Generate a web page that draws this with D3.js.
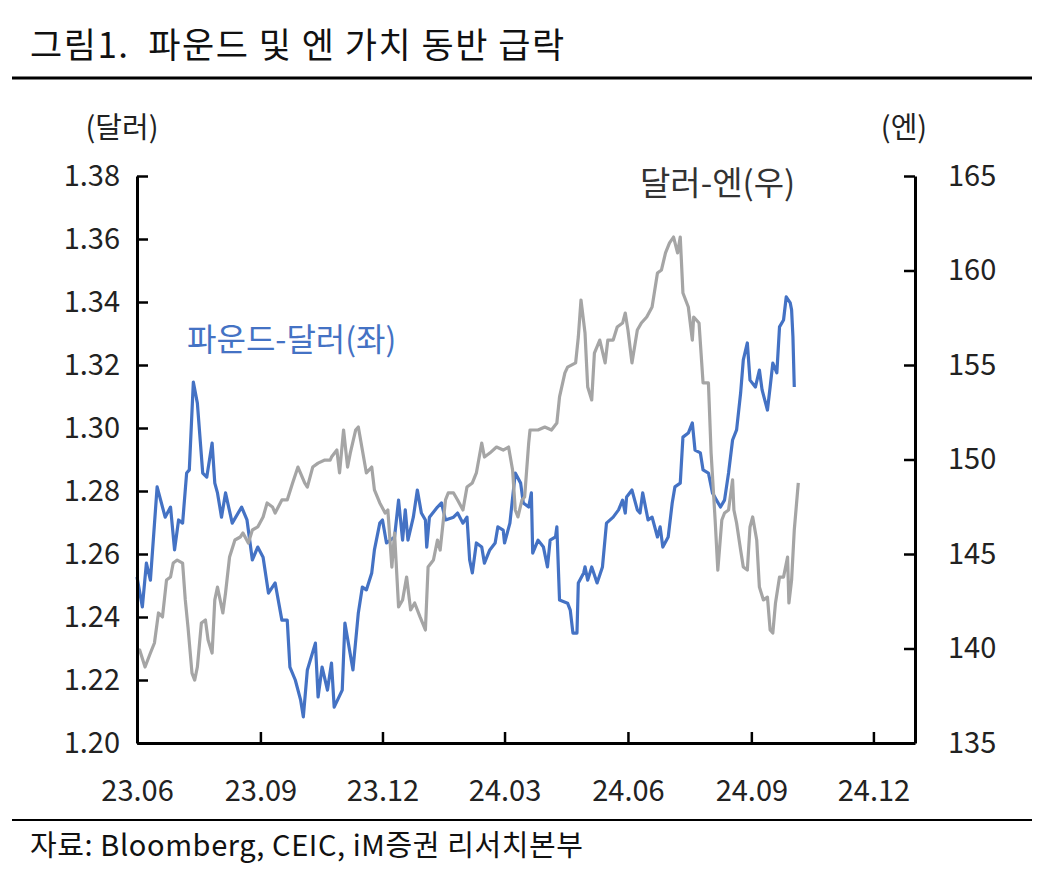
<!DOCTYPE html>
<html>
<head>
<meta charset="utf-8">
<script src="https://cdn.jsdelivr.net/npm/d3@7"></script>
<style>
  body { margin: 0; background: #fff; }
  text { font-family: "Noto Sans CJK KR", "Noto Sans", sans-serif; }
</style>
</head>
<body>
<script>
// chart text
var titleText = "그림1.  파운드 및 엔 가치 동반 급락";
var sourceText = "자료: Bloomberg, CEIC, iM증권 리서치본부";
var leftUnit = "(달러)", rightUnit = "(엔)";
var gbpLabel = "파운드-달러(좌)", jpyLabel = "달러-엔(우)";

// tick values
var leftTicks = [1.20, 1.22, 1.24, 1.26, 1.28, 1.30, 1.32, 1.34, 1.36, 1.38];
var rightTicks = [135, 140, 145, 150, 155, 160, 165];
var xTicks = ["2023-06-01", "2023-09-01", "2023-12-01", "2024-03-01", "2024-06-01", "2024-09-01", "2024-12-01"];

// 파운드-달러 (left axis)
var gbpDates = ["2023-06-01","2023-06-05","2023-06-08","2023-06-11","2023-06-16","2023-06-22","2023-06-26","2023-06-29",
  "2023-07-02","2023-07-05","2023-07-08","2023-07-10","2023-07-13","2023-07-16","2023-07-20","2023-07-23","2023-07-27",
  "2023-07-29","2023-07-31","2023-08-03","2023-08-06","2023-08-11","2023-08-18","2023-08-22","2023-08-26","2023-08-30",
  "2023-09-03","2023-09-07","2023-09-12","2023-09-17","2023-09-21","2023-09-23","2023-09-27","2023-10-01","2023-10-03",
  "2023-10-06","2023-10-12","2023-10-14","2023-10-17","2023-10-21","2023-10-24","2023-10-26","2023-11-01","2023-11-03",
  "2023-11-09","2023-11-13","2023-11-16","2023-11-19","2023-11-23","2023-11-25","2023-11-29","2023-12-01","2023-12-04",
  "2023-12-10","2023-12-13","2023-12-16","2023-12-18","2023-12-20","2023-12-24","2023-12-27","2023-12-30","2024-01-02",
  "2024-01-03","2024-01-05","2024-01-11","2024-01-14","2024-01-17","2024-01-23","2024-01-26","2024-01-30","2024-02-02",
  "2024-02-04","2024-02-06","2024-02-09","2024-02-13","2024-02-15","2024-02-19","2024-02-23","2024-02-25","2024-02-29",
  "2024-03-01","2024-03-05","2024-03-09","2024-03-13","2024-03-15","2024-03-19","2024-03-21","2024-03-22","2024-03-26",
  "2024-03-30","2024-04-02","2024-04-04","2024-04-08","2024-04-09","2024-04-11","2024-04-17","2024-04-19","2024-04-21",
  "2024-04-24","2024-04-25","2024-04-29","2024-04-30","2024-05-02","2024-05-05","2024-05-09","2024-05-13","2024-05-16",
  "2024-05-21","2024-05-25","2024-05-28","2024-05-30","2024-05-31","2024-06-04","2024-06-08","2024-06-10","2024-06-12",
  "2024-06-16","2024-06-19","2024-06-23","2024-06-25","2024-06-27","2024-07-01","2024-07-04","2024-07-06","2024-07-10",
  "2024-07-12","2024-07-16","2024-07-19","2024-07-21","2024-07-25","2024-07-27","2024-07-31","2024-08-03","2024-08-06",
  "2024-08-09","2024-08-12","2024-08-15","2024-08-18","2024-08-21","2024-08-24","2024-08-26","2024-08-29","2024-08-31",
  "2024-09-04","2024-09-07","2024-09-09","2024-09-13","2024-09-15","2024-09-17","2024-09-20","2024-09-22","2024-09-25",
  "2024-09-27","2024-09-30","2024-10-01","2024-10-02","2024-10-03"];
var gbpValues = [1.2527,1.2432,1.2571,1.2517,1.2813,1.2717,1.2749,1.2613,
  1.2708,1.2698,1.2857,1.2867,1.3146,1.3079,1.2857,1.2844,1.2952,
  1.2825,1.2794,1.2717,1.2794,1.2698,1.2749,1.2708,1.2581,1.2622,
  1.2590,1.2476,1.2508,1.2390,1.2390,1.2241,1.2200,1.2136,1.2083,
  1.2232,1.2317,1.2146,1.2241,1.2168,1.2254,1.2114,1.2168,1.2381,
  1.2232,1.2413,1.2495,1.2486,1.2540,1.2613,1.2698,1.2708,1.2635,
  1.2654,1.2771,1.2644,1.2740,1.2644,1.2717,1.2803,1.2730,1.2708,
  1.2622,1.2717,1.2749,1.2762,1.2708,1.2717,1.2730,1.2698,1.2717,
  1.2581,1.2540,1.2635,1.2622,1.2571,1.2613,1.2635,1.2686,1.2676,
  1.2635,1.2698,1.2857,1.2825,1.2762,1.2749,1.2794,1.2603,1.2644,
  1.2622,1.2559,1.2644,1.2654,1.2686,1.2454,1.2444,1.2422,1.2349,
  1.2349,1.2508,1.2540,1.2559,1.2517,1.2559,1.2508,1.2559,1.2698,
  1.2717,1.2740,1.2771,1.2730,1.2781,1.2803,1.2740,1.2730,1.2794,
  1.2708,1.2717,1.2654,1.2686,1.2622,1.2654,1.2762,1.2813,1.2825,
  1.2971,1.2984,1.3016,1.2930,1.2921,1.2867,1.2857,1.2794,1.2771,
  1.2749,1.2771,1.2857,1.2962,1.2994,1.3111,1.3216,1.3270,1.3152,
  1.3130,1.3184,1.3121,1.3057,1.3130,1.3206,1.3175,1.3321,1.3343,
  1.3416,1.3397,1.3375,1.3289,1.3130];

// 달러-엔 (right axis)
var jpyDates = ["2023-06-01","2023-06-03","2023-06-07","2023-06-11","2023-06-14","2023-06-17","2023-06-20","2023-06-23",
  "2023-06-26","2023-06-28","2023-07-01","2023-07-05","2023-07-07","2023-07-09","2023-07-12","2023-07-14","2023-07-16",
  "2023-07-19","2023-07-22","2023-07-24","2023-07-27","2023-07-29","2023-07-31","2023-08-04","2023-08-06","2023-08-09",
  "2023-08-13","2023-08-17","2023-08-19","2023-08-23","2023-08-26","2023-08-30","2023-09-03","2023-09-06","2023-09-10",
  "2023-09-12","2023-09-17","2023-09-21","2023-09-25","2023-09-29","2023-10-04","2023-10-06","2023-10-10","2023-10-14",
  "2023-10-19","2023-10-23","2023-10-24","2023-10-28","2023-10-30","2023-11-02","2023-11-05","2023-11-07","2023-11-11",
  "2023-11-13","2023-11-16","2023-11-19","2023-11-23","2023-11-25","2023-11-29","2023-12-03","2023-12-05","2023-12-08",
  "2023-12-10","2023-12-13","2023-12-16","2023-12-19","2023-12-22","2023-12-25","2023-12-29","2024-01-02","2024-01-04",
  "2024-01-08","2024-01-11","2024-01-13","2024-01-17","2024-01-19","2024-01-23","2024-01-26","2024-01-30","2024-02-02",
  "2024-02-06","2024-02-09","2024-02-13","2024-02-15","2024-02-19","2024-02-24","2024-02-29","2024-03-04","2024-03-07",
  "2024-03-09","2024-03-11","2024-03-14","2024-03-16","2024-03-19","2024-03-20","2024-03-26","2024-03-31","2024-04-05",
  "2024-04-09","2024-04-11","2024-04-15","2024-04-17","2024-04-23","2024-04-25","2024-04-27","2024-04-30","2024-05-02",
  "2024-05-05","2024-05-07","2024-05-11","2024-05-15","2024-05-17","2024-05-21","2024-05-24","2024-05-28","2024-05-30",
  "2024-06-01","2024-06-04","2024-06-08","2024-06-11","2024-06-15","2024-06-19","2024-06-23","2024-06-26","2024-06-29",
  "2024-07-02","2024-07-05","2024-07-08","2024-07-10","2024-07-12","2024-07-16","2024-07-19","2024-07-20","2024-07-24",
  "2024-07-27","2024-07-31","2024-08-02","2024-08-05","2024-08-07","2024-08-10","2024-08-12","2024-08-15","2024-08-18",
  "2024-08-19","2024-08-21","2024-08-24","2024-08-26","2024-08-29","2024-08-31","2024-09-02","2024-09-05","2024-09-07",
  "2024-09-10","2024-09-13","2024-09-15","2024-09-17","2024-09-19","2024-09-22","2024-09-25","2024-09-28","2024-09-29",
  "2024-10-01","2024-10-03","2024-10-06"];
var jpyValues = [139.76,139.92,139.02,139.76,140.29,141.88,141.67,143.62,
  143.78,144.52,144.68,144.52,142.57,141.14,138.70,138.33,139.02,
  141.35,141.51,140.45,139.76,142.57,143.25,141.88,142.94,144.84,
  145.74,145.90,146.11,145.58,146.27,146.43,146.96,147.70,147.49,
  147.17,147.86,147.86,148.76,149.60,148.76,148.54,149.60,149.81,
  149.97,149.97,150.13,150.50,149.29,151.56,149.60,150.34,151.56,
  151.72,150.50,149.29,149.60,148.39,147.70,147.17,147.33,144.31,
  146.11,142.20,142.57,143.78,142.04,142.41,141.67,140.98,144.31,
  144.68,145.74,145.21,147.86,148.23,148.23,147.86,147.33,148.54,
  148.76,149.29,150.87,150.13,150.34,150.66,150.50,150.66,149.44,
  147.33,146.96,147.86,148.02,150.87,151.56,151.56,151.72,151.56,
  151.93,153.31,154.58,154.89,155.11,156.48,158.44,156.69,153.84,
  153.15,155.63,156.32,155.11,156.32,156.32,157.01,157.22,157.75,
  156.85,155.11,156.85,157.22,157.54,158.07,159.87,160.03,160.93,
  161.46,161.77,160.93,161.77,158.81,158.07,156.32,157.54,157.22,
  154.05,154.05,150.34,146.80,144.15,146.80,147.17,147.33,148.92,
  147.33,146.64,145.21,144.31,144.15,146.43,146.96,145.74,143.25,
  142.57,142.72,140.98,140.82,142.41,143.78,143.78,144.84,142.41,
  143.62,146.27,148.76];

var parseDate = d3.timeParse("%Y-%m-%d");

var W = 1047, H = 878;
var plotLeft = 137, plotRight = 915, plotTop = 176, plotBottom = 743;

var svg = d3.select("body").append("svg")
    .attr("width", W)
    .attr("height", H);

// scales
var x = d3.scaleTime()
    .domain([parseDate("2023-06-01"), parseDate("2025-01-01")])
    .range([plotLeft, plotRight]);
var yL = d3.scaleLinear().domain([1.20, 1.38]).range([plotBottom, plotTop]);
var yR = d3.scaleLinear().domain([135, 165]).range([plotBottom, plotTop]);

// title + rules
svg.append("text")
    .attr("x", 30).attr("y", 58)
    .style("font-size", "35px")
    .style("letter-spacing", "1.5px")
    .style("fill", "#111")
    .attr("xml:space", "preserve")
    .text(titleText);
svg.append("line")
    .attr("x1", 12).attr("x2", 1032).attr("y1", 78).attr("y2", 78)
    .style("stroke", "#000").style("stroke-width", 3);
svg.append("line")
    .attr("x1", 12).attr("x2", 1032).attr("y1", 820).attr("y2", 820)
    .style("stroke", "#000").style("stroke-width", 2);
svg.append("text")
    .attr("x", 30).attr("y", 856)
    .style("font-size", "29px")
    .style("letter-spacing", "0.6px")
    .style("fill", "#111")
    .text(sourceText);

// units
svg.append("text").attr("x", 122).attr("y", 138)
    .attr("text-anchor", "middle")
    .style("font-size", "29px").style("fill", "#222")
    .text(leftUnit);
svg.append("text").attr("x", 904).attr("y", 138)
    .attr("text-anchor", "middle")
    .style("font-size", "29px").style("fill", "#222")
    .text(rightUnit);

// lines
var gbpData = gbpDates.map(function(d, i) { return { date: parseDate(d), value: gbpValues[i] }; });
var jpyData = jpyDates.map(function(d, i) { return { date: parseDate(d), value: jpyValues[i] }; });

var gbpLine = d3.line()
    .x(function(d) { return x(d.date); })
    .y(function(d) { return yL(d.value); });
var jpyLine = d3.line()
    .x(function(d) { return x(d.date); })
    .y(function(d) { return yR(d.value); });

svg.append("path")
    .datum(gbpData)
    .attr("d", gbpLine)
    .style("fill", "none")
    .style("stroke", "#4472C4")
    .style("stroke-width", 3.2)
    .style("stroke-linejoin", "round");

svg.append("path")
    .datum(jpyData)
    .attr("d", jpyLine)
    .style("fill", "none")
    .style("stroke", "#A5A5A5")
    .style("stroke-width", 3.2)
    .style("stroke-linejoin", "round");

// axes
var fmtX = d3.timeFormat("%y.%m");

var gx = svg.append("g")
    .attr("transform", "translate(0," + plotBottom + ")")
    .call(d3.axisBottom(x)
      .tickValues(xTicks.map(parseDate))
      .tickFormat(fmtX)
      .tickSizeInner(-11).tickSizeOuter(0).tickPadding(37));

var gl = svg.append("g")
    .attr("transform", "translate(" + plotLeft + ",0)")
    .call(d3.axisLeft(yL)
      .tickValues(leftTicks)
      .tickFormat(d3.format(".2f"))
      .tickSizeInner(-11).tickSizeOuter(0).tickPadding(17));

var gr = svg.append("g")
    .attr("transform", "translate(" + plotRight + ",0)")
    .call(d3.axisRight(yR)
      .tickValues(rightTicks)
      .tickSizeInner(-11).tickSizeOuter(0).tickPadding(33));

[gx, gl, gr].forEach(function(g) {
  g.select(".domain").style("stroke", "#000").style("stroke-width", 3);
  g.selectAll(".tick line").style("stroke", "#000").style("stroke-width", 2.5);
  g.selectAll(".tick text")
    .style("font-size", "29px")
    .style("fill", "#222")
    .style("font-family", "'Noto Sans CJK KR', sans-serif");
});

// series labels
svg.append("text")
    .attr("x", 187).attr("y", 351)
    .style("font-size", "32px")
    .style("fill", "#4472C4")
    .text(gbpLabel);
svg.append("text")
    .attr("x", 640).attr("y", 195)
    .style("font-size", "33px")
    .style("fill", "#333")
    .text(jpyLabel);
</script>
</body>
</html>
